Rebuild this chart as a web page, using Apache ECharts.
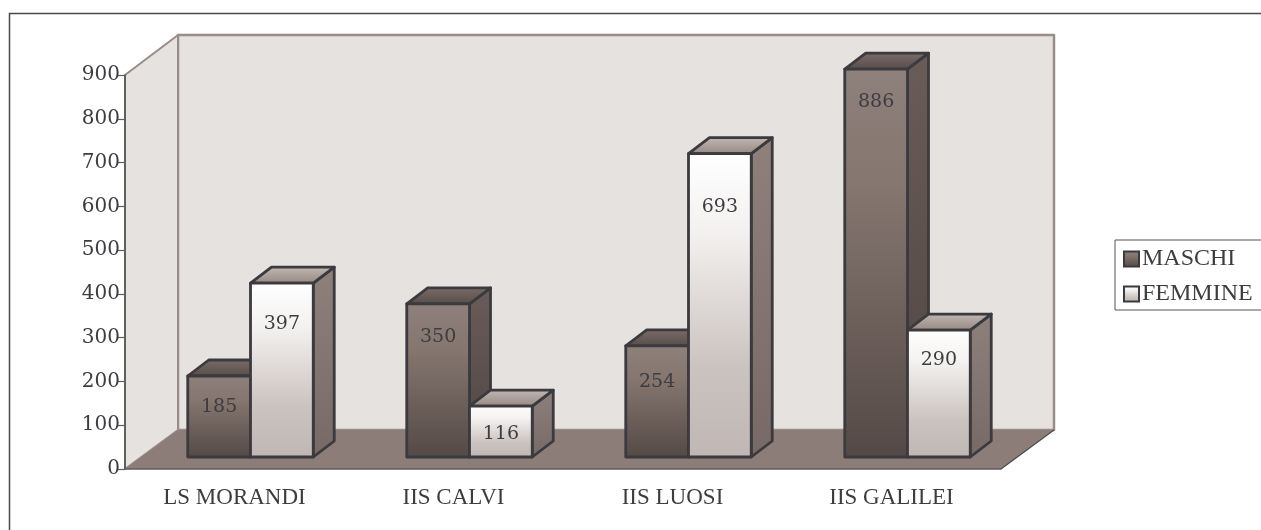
<!DOCTYPE html>
<html>
<head>
<meta charset="utf-8">
<title>Maschi e femmine</title>
<script src="https://cdn.jsdelivr.net/npm/echarts@6/dist/echarts.min.js"></script>
<style>
  html, body { margin: 0; background: #fff; overflow: hidden; }
  #main { width: 1261px; height: 530px; }
</style>
</head>
<body>
<div id="main"></div>
<script>
// dati
var scuole = ['LS MORANDI', 'IIS CALVI', 'IIS LUOSI', 'IIS GALILEI'];
var maschi = [185, 350, 254, 886];
var femmine = [397, 116, 693, 290];
var ticks_y = ['0', '100', '200', '300', '400', '500', '600', '700', '800', '900'];

// scostamento delle etichette dal bordo alto della barra, px
var drop_maschi = [31, 33, 36, 33];
var drop_femmine = [41, 28, 53, 30];

const FONT = '"DejaVu Serif", serif';
const TEXT_FONT = '"Liberation Serif", serif';
const INK = '#3d3c40';
const STROKE = '#3b3a3f';
// profondita' della parete e delle barre
const WALL_DX = 53, WALL_DY = 39;
const BAR_X = 16, BAR_Y = 12, DEPTH_X = 21, DEPTH_Y = 16;

function grad(stops, x2, y2) {
    return new echarts.graphic.LinearGradient(0, 0, x2 || 0, y2 === undefined ? 1 : y2,
        stops.map(function (c, i) { return { offset: c[0], color: c[1] }; }));
}

var paint = {
    MASCHI: {
        front: [[0, '#8e807b'], [0.3, '#85766f'], [1, '#544946']],
        side: [[0, '#6a5c58'], [1, '#4f4542']],
        top: [[0, '#7c6e69'], [1, '#564b48']]
    },
    FEMMINE: {
        front: [[0, '#ffffff'], [0.25, '#f4f2f1'], [0.7, '#cbc3c0'], [1, '#c0b7b4']],
        side: [[0, '#8e807b'], [1, '#776965']],
        top: [[0, '#c4bab6'], [1, '#94867f']]
    }
};

function poly(points, fill, stroke, width) {
    return {
        type: 'polygon',
        shape: { points: points },
        style: { fill: fill, stroke: stroke, lineWidth: width, lineJoin: 'round' }
    };
}

// parete di fondo, parete sinistra e pavimento, ricavati dall'area degli assi
function render_walls(params) {
    var g = params.coordSys;
    var x0 = g.x, x1 = g.x + g.width, y0 = g.y, y1 = g.y + g.height;
    var wall = '#e6e2df', edge = '#9a8c88', floor = '#8c7d78';
    return {
        type: 'group',
        children: [
            poly([[x0 + WALL_DX, y0 - WALL_DY - 1], [x1 + WALL_DX, y0 - WALL_DY - 1],
                  [x1 + WALL_DX, y1 - WALL_DY], [x0 + WALL_DX, y1 - WALL_DY]], wall, edge, 2.5),
            poly([[x0, y0], [x0 + WALL_DX, y0 - WALL_DY - 1],
                  [x0 + WALL_DX, y1 - WALL_DY], [x0, y1]], wall, edge, 2),
            poly([[x0, y1], [x0 + WALL_DX, y1 - WALL_DY],
                  [x1 + WALL_DX, y1 - WALL_DY], [x1, y1]], floor, null, 0),
            { type: 'line', shape: { x1: x1, y1: y1, x2: x1 + WALL_DX, y2: y1 - WALL_DY },
              style: { stroke: '#4d4a4b', lineWidth: 1.2 } },
            { type: 'line', shape: { x1: x0, y1: y0, x2: x0, y2: y1 },
              style: { stroke: '#5f5c5d', lineWidth: 1.5 } }
        ]
    };
}

// barra 3D: fronte, fianco, cima e valore
function make_bar(name, place, drops) {
    return function (params, api) {
        var cat = api.value(0), val = api.value(1);
        var base = api.coord([cat, 0]);
        var top = api.coord([cat, val]);
        var w = api.size([1, 0])[0] * 0.2865;
        var left = base[0] + BAR_X + place * w;
        var right = left + w;
        var by = base[1] - BAR_Y, ty = top[1] - BAR_Y;
        var p = paint[name];
        return {
            type: 'group',
            children: [
                poly([[right, ty], [right + DEPTH_X, ty - DEPTH_Y], [right + DEPTH_X, by - DEPTH_Y], [right, by]],
                    grad(p.side), STROKE, 2.8),
                poly([[left, ty], [left + DEPTH_X, ty - DEPTH_Y], [right + DEPTH_X, ty - DEPTH_Y], [right, ty]],
                    grad(p.top), STROKE, 2.8),
                poly([[left, ty], [right, ty], [right, by], [left, by]], grad(p.front), STROKE, 2.8),
                {
                    type: 'text',
                    style: {
                        x: (left + right) / 2, y: ty + drops[cat], text: String(val),
                        font: '19px ' + FONT, fill: INK, align: 'center', verticalAlign: 'middle'
                    }
                }
            ]
        };
    };
}

function series_data(values) {
    return values.map(function (v, i) { return [i, v]; });
}

var myChart = echarts.init(document.getElementById('main'), null, { renderer: 'canvas' });
var option = {
    animation: false,
    textStyle: { fontFamily: FONT, color: INK },
    grid: { left: 125, top: 75, width: 876, height: 394, containLabel: false },
    xAxis: {
        type: 'category',
        data: scuole,
        axisLine: { lineStyle: { color: '#5f5c5d', width: 1.5 } },
        axisTick: { length: 8, lineStyle: { color: '#5f5c5d', width: 1.2 } },
        axisLabel: { margin: 17, fontSize: 23, fontFamily: TEXT_FONT, color: INK }
    },
    yAxis: {
        type: 'value',
        min: 0,
        max: 900,
        interval: 100,
        splitLine: { show: false },
        axisLine: { show: true, lineStyle: { color: '#5f5c5d', width: 1.5 } },
        axisTick: { show: true, length: 7, lineStyle: { color: '#5f5c5d', width: 1.2 } },
        axisLabel: {
            margin: 5, fontSize: 20, fontFamily: FONT, color: INK, padding: [5, 0, 0, 0],
            formatter: function (v) { return ticks_y[v / 100]; }
        }
    },
    legend: {
        left: 1115,
        top: 240,
        orient: 'vertical',
        selectedMode: false,
        padding: [7, 40, 4, 8],
        itemGap: 11,
        itemWidth: 15,
        itemHeight: 15,
        borderColor: '#55535a',
        borderWidth: 1,
        textStyle: { fontFamily: TEXT_FONT, fontSize: 24, color: INK, padding: [0, 0, 0, -2] },
        data: [
            { name: 'MASCHI', icon: 'rect',
              itemStyle: { color: grad(paint.MASCHI.front), borderColor: STROKE, borderWidth: 2 } },
            { name: 'FEMMINE', icon: 'rect',
              itemStyle: { color: grad(paint.FEMMINE.front), borderColor: STROKE, borderWidth: 2 } }
        ]
    },
    graphic: [{
        type: 'polyline',
        silent: true,
        shape: { points: [[9.5, 530], [9.5, 13.5], [1261, 13.5]] },
        style: { stroke: '#48474a', lineWidth: 1.5, fill: null }
    }],
    series: [
        {
            name: 'pareti',
            type: 'custom',
            z: -1,
            silent: true,
            clip: false,
            data: [[0, 0]],
            renderItem: render_walls
        },
        {
            name: 'MASCHI',
            type: 'custom',
            z: 3,
            clip: false,
            encode: { x: 0, y: 1 },
            data: series_data(maschi),
            renderItem: make_bar('MASCHI', -1, drop_maschi)
        },
        {
            name: 'FEMMINE',
            type: 'custom',
            z: 4,
            clip: false,
            encode: { x: 0, y: 1 },
            data: series_data(femmine),
            renderItem: make_bar('FEMMINE', 0, drop_femmine)
        }
    ]
};
option && myChart.setOption(option);
</script>
</body>
</html>
